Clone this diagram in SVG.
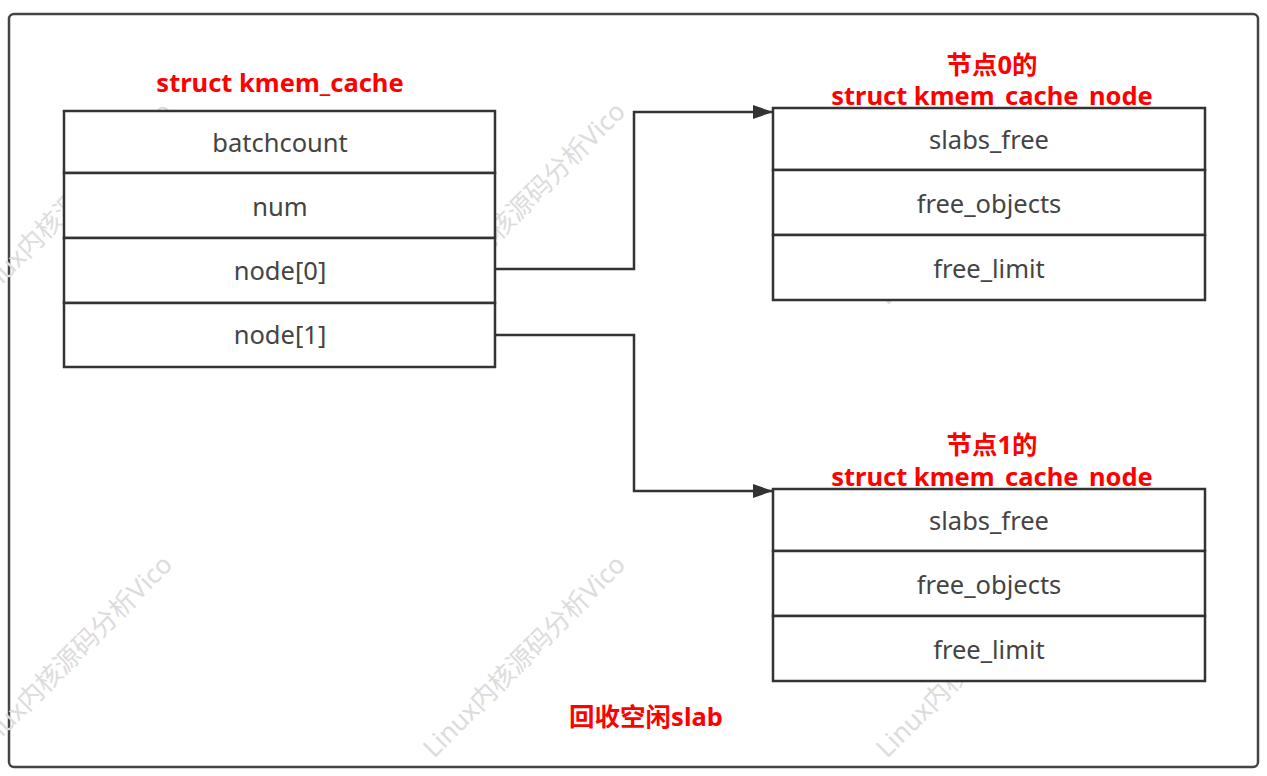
<svg xmlns="http://www.w3.org/2000/svg" width="1267" height="776" viewBox="0 0 1267 776">
<style>
.frame{fill:#fff;stroke:#444;stroke-width:2.5}
.cell{fill:#fff;stroke:#333;stroke-width:2.5}
.ct{font-family:"Noto Sans","Noto Sans CJK SC",sans-serif;font-size:25.5px;fill:#444;text-anchor:middle;dominant-baseline:central}
.title{font-family:"Noto Sans","Noto Sans CJK SC",sans-serif;font-size:25.5px;font-weight:bold;fill:#ff0000;text-anchor:middle;dominant-baseline:central}
.wm{font-family:"Noto Sans","Noto Sans CJK SC",sans-serif;font-size:26px;fill:#dcdcdc}
.conn{fill:none;stroke:#333;stroke-width:2.5}
</style>
<defs>
<marker id="arr" viewBox="0 0 20 14" refX="20" refY="7" markerWidth="20" markerHeight="14" markerUnits="userSpaceOnUse" orient="auto">
<path d="M0,0 L20,7 L0,14 z" fill="#333"/>
</marker>
</defs>
<rect class="frame" x="9" y="14" width="1249" height="753" rx="5"/>
<g id="watermarks">
<text class="wm" transform="translate(-19,306) rotate(-45)">Linux内核源码分析Vico</text>
<text class="wm" transform="translate(434,306) rotate(-45)">Linux内核源码分析Vico</text>
<text class="wm" transform="translate(887,306) rotate(-45)">Linux内核源码分析Vico</text>
<text class="wm" transform="translate(-19,759) rotate(-45)">Linux内核源码分析Vico</text>
<text class="wm" transform="translate(434,759) rotate(-45)">Linux内核源码分析Vico</text>
<text class="wm" transform="translate(887,759) rotate(-45)">Linux内核源码分析Vico</text>
</g>
<g id="connectors">
<path class="conn" d="M495,269 H634 V112 H773" marker-end="url(#arr)"/>
<path class="conn" d="M495,335 H634 V491 H773" marker-end="url(#arr)"/>
</g>
<g id="kmem_cache">
<text class="title" x="280" y="82">struct kmem_cache</text>
<rect class="cell" x="64" y="111" width="431" height="62"/>
<rect class="cell" x="64" y="173" width="431" height="65"/>
<rect class="cell" x="64" y="238" width="431" height="65"/>
<rect class="cell" x="64" y="303" width="431" height="64"/>
<text class="ct" x="280" y="142">batchcount</text>
<text class="ct" x="280" y="206">num</text>
<text class="ct" x="280" y="270">node[0]</text>
<text class="ct" x="280" y="334">node[1]</text>
</g>
<g id="node0">
<text class="title" x="992" y="64">节点0的</text>
<text class="title" x="992" y="95">struct kmem_cache_node</text>
<rect class="cell" x="773" y="108" width="432" height="62"/>
<rect class="cell" x="773" y="170" width="432" height="65"/>
<rect class="cell" x="773" y="235" width="432" height="65"/>
<text class="ct" x="989" y="139">slabs_free</text>
<text class="ct" x="989" y="203">free_objects</text>
<text class="ct" x="989" y="268">free_limit</text>
</g>
<g id="node1">
<text class="title" x="992" y="444">节点1的</text>
<text class="title" x="992" y="476">struct kmem_cache_node</text>
<rect class="cell" x="773" y="489" width="432" height="62"/>
<rect class="cell" x="773" y="551" width="432" height="65"/>
<rect class="cell" x="773" y="616" width="432" height="65"/>
<text class="ct" x="989" y="520">slabs_free</text>
<text class="ct" x="989" y="584">free_objects</text>
<text class="ct" x="989" y="649">free_limit</text>
</g>
<g id="caption">
<text class="title" x="646" y="716">回收空闲slab</text>
</g>
</svg>
